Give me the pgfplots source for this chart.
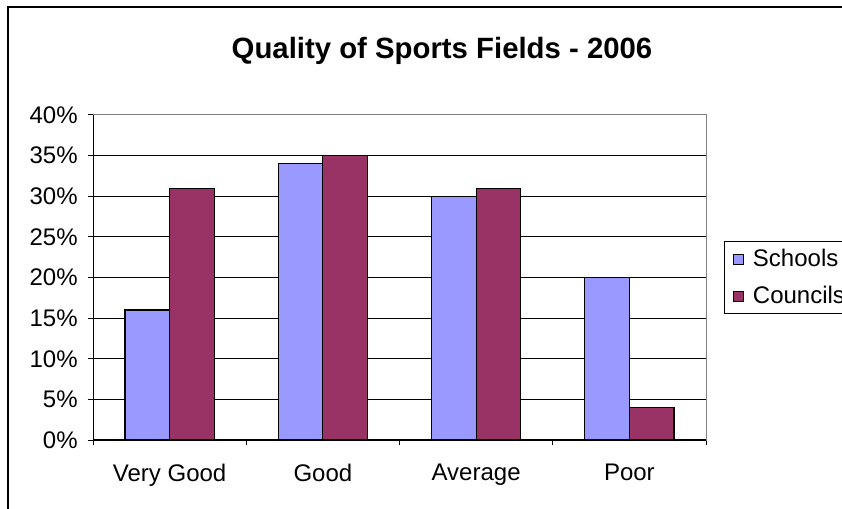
\documentclass[border=0pt]{standalone}
\usepackage{pgfplots}
\pgfplotsset{compat=1.18}
\usepackage{fontspec}
\setmainfont{Liberation Sans}
\definecolor{schools}{HTML}{9999FF}
\definecolor{councils}{HTML}{993366}
\definecolor{frame}{HTML}{808080}

\begin{document}
\begin{tikzpicture}[x=0.75pt,y=0.75pt]
\useasboundingbox (0,0) rectangle (842,508);
\clip (0,0) rectangle (842,508);
\fill[white] (0,0) rectangle (842,508);
% chart area border
\draw[line width=1.3pt] (8,-20) -- (8,501) -- (870,501);
% title
\node[font=\bfseries\fontsize{22}{26}\selectfont] at (442,457) {Quality of Sports Fields - 2006};
\begin{axis}[
  at={(69.75pt,51pt)}, anchor=south west,
  scale only axis, width=459.75pt, height=243.75pt,
  ybar=0pt, bar width=33.4pt,
  ymin=0, ymax=40, xmin=-0.5, xmax=3.5,
  ytick={0,5,...,40},
  yticklabel={\pgfmathprintnumber{\tick}\%},
  xtick={-0.5,0.5,1.5,2.5,3.5}, xticklabels={},
  extra x ticks={0,1,2,3},
  extra x tick labels={Very Good,Good,Average,Poor},
  extra x tick style={major tick length=0pt, grid=none,
     xticklabel style={yshift=-14.5pt}},
  tick align=outside, tick pos=left,
  major tick length=4pt,
  tick style={black, line width=0.75pt},
  ymajorgrids, grid style={black, line width=0.75pt},
  axis line style={frame, line width=0.75pt},
  tick label style={font=\fontsize{18}{21}\selectfont},
  yticklabel style={xshift=-4pt},
  /pgf/number format/assume math mode=true,
  legend style={at={(rel axis cs:1.0294,0.612)}, anchor=north west,
     draw=black, line width=0.75pt, font=\fontsize{18}{21}\selectfont,
     row sep=9pt, inner xsep=6pt, inner ysep=4pt},
  legend cell align=left,
  legend image code/.code={\draw[#1, line width=0.75pt] (0pt,-3.75pt) rectangle (7.5pt,3.75pt); \path (12.5pt,0pt);},
]
\addplot[fill=schools, draw=black, line width=0.9pt] coordinates {(0,16) (1,34) (2,30) (3,20)};
\addplot[fill=councils, draw=black, line width=0.9pt] coordinates {(0,31) (1,35) (2,31) (3,4)};
\legend{Schools, Councils}
\draw[black, line width=0.9pt] (rel axis cs:0,1) -- (rel axis cs:0,0) -- (rel axis cs:1,0);
\end{axis}
\end{tikzpicture}
\end{document}
